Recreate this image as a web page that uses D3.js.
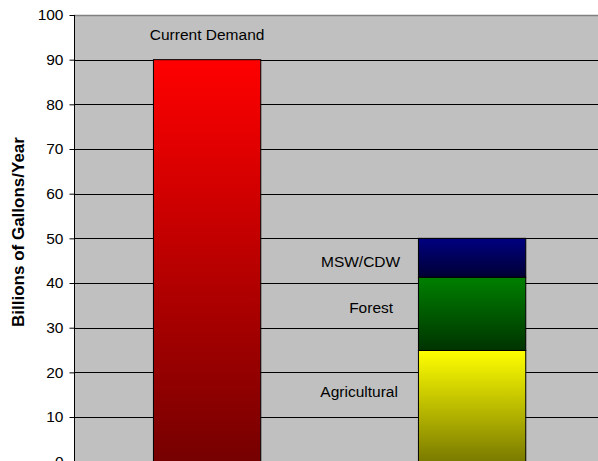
<!DOCTYPE html>
<html><head><meta charset="utf-8">
<script src="https://cdn.jsdelivr.net/npm/d3@7"></script>
<style>html,body{margin:0;padding:0;background:#fff;overflow:hidden}svg{display:block;font-family:Arial,"Liberation Sans",sans-serif}</style>
</head><body>
<script>
const categories = ["Current Demand", "Supply"];
const demandValues = [90, 0];
const segmentNames = ["Agricultural", "Forest", "MSW/CDW"];
const agricultural = [0, 24.9];
const forest = [0, 16.4];
const mswcdw = [0, 8.7];
const yTicks = [0, 10, 20, 30, 40, 50, 60, 70, 80, 90, 100];
const yTitle = "Billions of Gallons/Year";

(function () {
const W = 598, H = 461;
const svg = d3.select("body").append("svg").attr("width", W).attr("height", H);
const mLeft = 74, mTop = 15, plotRight = 604, bottomY = 461.7;
const x = d3.scaleBand().domain(categories).range([mLeft, plotRight]).paddingInner(0).paddingOuter(0);
const y = d3.scaleLinear().domain([0, 100]).range([bottomY, mTop]);
const barW = x.bandwidth() * 0.405;

const defs = svg.append("defs");
function grad(id, c1, c2) {
  const g = defs.append("linearGradient").attr("id", id).attr("x1", 0).attr("y1", 0).attr("x2", 0).attr("y2", 1);
  g.append("stop").attr("offset", "0%").attr("stop-color", c1);
  g.append("stop").attr("offset", "100%").attr("stop-color", c2);
}
grad("gRed", "#ff0000", "#760000");
grad("gYel", "#ffff00", "#7a7a00");
grad("gGrn", "#008000", "#003300");
grad("gBlu", "#000080", "#000035");

svg.append("rect").attr("x", mLeft).attr("y", mTop).attr("width", plotRight - mLeft).attr("height", bottomY - mTop).attr("fill", "#c0c0c0");

svg.append("g").selectAll("line").data(yTicks.filter(d => d > 0)).join("line")
  .attr("x1", mLeft).attr("x2", plotRight)
  .attr("y1", d => Math.round(y(d)) + 0.5).attr("y2", d => Math.round(y(d)) + 0.5)
  .attr("stroke", d => d === 100 ? "#808080" : "#000").attr("stroke-width", d => d === 100 ? 1.5 : 1);

const yAxis = d3.axisLeft(y).tickValues(yTicks).tickSize(5).tickPadding(6);
const ag = svg.append("g").attr("transform", `translate(${mLeft + 0.5},0)`).call(yAxis);
ag.select(".domain").attr("stroke", "#000").attr("d", `M0,${mTop}V${bottomY}`);
ag.selectAll(".tick line").attr("stroke", "#000");
ag.selectAll(".tick text").attr("font-size", 15.5).attr("fill", "#000").attr("font-family", "Arial, 'Liberation Sans', sans-serif");

const cx = c => x(c) + x.bandwidth() / 2 + 0.6;
svg.append("rect")
  .attr("x", cx(categories[0]) - barW / 2).attr("y", y(demandValues[0]))
  .attr("width", barW).attr("height", y(0) - y(demandValues[0]))
  .attr("fill", "url(#gRed)").attr("stroke", "#000").attr("stroke-width", 1);

const stackData = [agricultural, forest, mswcdw];
const fills = ["url(#gYel)", "url(#gGrn)", "url(#gBlu)"];
let base = 0;
const segs = [];
stackData.forEach((arr, i) => {
  const v = arr[1];
  segs.push({ name: segmentNames[i], y0: base, y1: base + v, fill: fills[i] });
  base += v;
});
svg.append("g").selectAll("rect").data(segs).join("rect")
  .attr("x", cx(categories[1]) - barW / 2).attr("y", d => y(d.y1))
  .attr("width", barW).attr("height", d => y(d.y0) - y(d.y1))
  .attr("fill", d => d.fill).attr("stroke", "#000").attr("stroke-width", 1);

svg.append("text").attr("x", cx(categories[0])).attr("y", y(95.3)).attr("text-anchor", "middle")
  .attr("dominant-baseline", "middle").attr("font-size", 15.5).text(categories[0]);
const labelPos = [{ v: 15.4, dx: -113 }, { v: 34.2, dx: -101 }, { v: 44.5, dx: -111.5 }];
segs.forEach((s, i) => {
  svg.append("text").attr("x", cx(categories[1]) + labelPos[i].dx).attr("y", y(labelPos[i].v))
    .attr("text-anchor", "middle").attr("dominant-baseline", "middle").attr("font-size", 15.5).text(s.name);
});

svg.append("text").attr("transform", `translate(24,232) rotate(-90)`).attr("text-anchor", "middle")
  .attr("font-size", 17).attr("font-weight", "bold").text(yTitle);
})();
</script>
</body></html>
